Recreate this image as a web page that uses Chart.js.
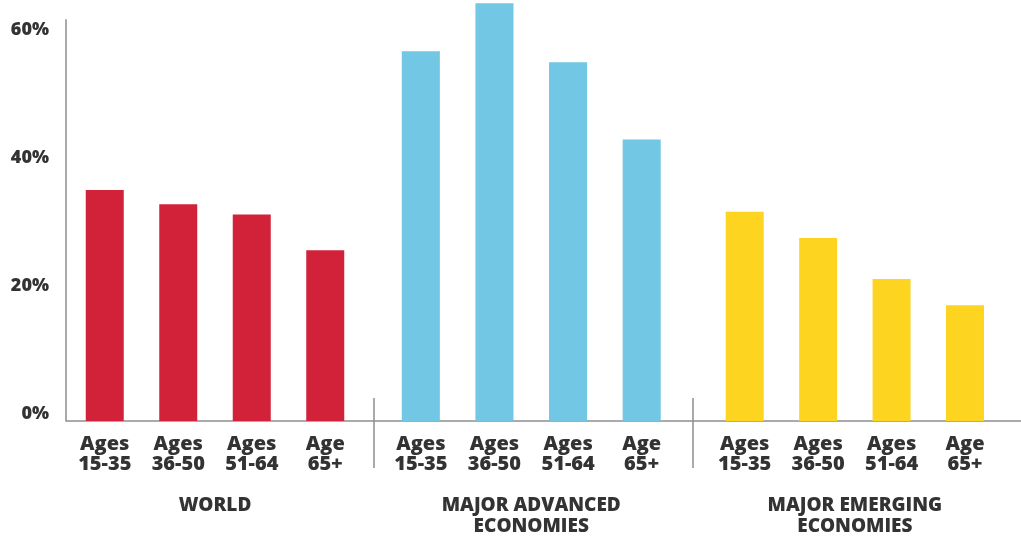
<!DOCTYPE html>
<html><head><meta charset="utf-8">
<script src="https://cdn.jsdelivr.net/npm/chart.js@4/dist/chart.umd.min.js"></script>
<style>
html,body{margin:0;padding:0;background:#fff;width:1021px;height:538px;overflow:hidden;position:relative;}
.wrap{position:absolute;top:-10px;height:548px;}
canvas{display:block;}
</style></head><body>
<div class="wrap" style="left:0;width:372px"><canvas id="c1" width="372" height="548"></canvas></div>
<div class="wrap" style="left:372px;width:319px"><canvas id="c2" width="319" height="548"></canvas></div>
<div class="wrap" style="left:691px;width:330px"><canvas id="c3" width="330" height="548"></canvas></div>
<script>
const ageLabels = [["Ages","15-35"],["Ages","36-50"],["Ages","51-64"],["Age","65+"]];
const groupTitles = [["WORLD"],["MAJOR ADVANCED","ECONOMIES"],["MAJOR EMERGING","ECONOMIES"]];
const worldValues = [36.1, 33.9, 32.3, 26.7];
const advancedValues = [57.8, 65.3, 56.1, 44.0];
const emergingValues = [32.7, 28.6, 22.2, 18.1];
const yTickValues = [0, 20, 40, 60];
const yMax = 65.5;
const yAxisTop = 62.8;
const groupColors = ['#D1223A', '#72C7E4', '#FDD41F'];

Chart.defaults.font.family = "'Open Sans', sans-serif";
const textColor = '#333333';
const lineColor = '#8f8f8f';

const linesPlugin = {
  id: 'lines',
  beforeDatasetsDraw(chart, args, opts) {
    const ctx = chart.ctx, y = chart.scales.y, a = chart.chartArea;
    const y0 = y.getPixelForValue(0);
    ctx.save();
    ctx.strokeStyle = lineColor;
    ctx.lineWidth = 1.5;
    ctx.beginPath();
    const startX = opts.yAxis ? a.left - 2 : 0;
    ctx.moveTo(startX, y0); ctx.lineTo(chart.width, y0);
    if (opts.yAxis) { ctx.moveTo(a.left - 2, y.getPixelForValue(yAxisTop)); ctx.lineTo(a.left - 2, y0 + 0.75); }
    if (opts.separator) { ctx.moveTo(2, y0 - 23); ctx.lineTo(2, y0 + 47); }
    ctx.stroke();
    ctx.restore();
  }
};

function makeChart(id, values, color, title, showY, padding, titlePadBottom, separator) {
  return new Chart(document.getElementById(id), {
    type: 'bar',
    data: { labels: ageLabels, datasets: [{ data: values, backgroundColor: color, borderWidth: 0,
      categoryPercentage: 1, barPercentage: 0.517 }] },
    options: {
      responsive: false, animation: false, devicePixelRatio: 1,
      layout: { padding: padding },
      plugins: { legend: { display: false }, tooltip: { enabled: false },
        lines: { yAxis: showY, separator: separator } },
      scales: {
        x: {
          type: 'category', offset: true,
          grid: { display: false, drawTicks: false }, border: { display: false },
          ticks: { padding: 13, color: textColor, maxRotation: 0, autoSkip: false,
            font: { size: 20, weight: 800, lineHeight: 1.0 } },
          title: { display: true, text: title, color: textColor,
            font: { size: 19, weight: 800, lineHeight: '21.5px' },
            padding: { top: 0, bottom: titlePadBottom } },
          afterFit: s => { s.height = 117; s.paddingLeft = 0; s.paddingRight = 0; }
        },
        y: {
          display: showY, min: 0, max: yMax,
          grid: { display: false, drawTicks: false }, border: { display: false },
          afterBuildTicks: s => { s.ticks = yTickValues.map(v => ({ value: v })); },
          ticks: { padding: 19, labelOffset: -7, color: textColor,
            font: { size: 18, weight: 800 }, callback: v => v + '%' },
          afterFit: s => { if (showY) { s.width = 68; } s.paddingTop = 0; s.paddingBottom = 0; }
        }
      }
    },
    plugins: [linesPlugin]
  });
}

makeChart('c1', worldValues, groupColors[0], groupTitles[0], true, { top: 12, left: 0, right: 10, bottom: 0 }, 21.5, false);
makeChart('c2', advancedValues, groupColors[1], groupTitles[1], false, { top: 12, left: 12, right: 12.5, bottom: 0 }, 0.5, true);
makeChart('c3', emergingValues, groupColors[2], groupTitles[2], false, { top: 12, left: 17, right: 19.3, bottom: 0 }, 0.5, true);
</script>
</body></html>
